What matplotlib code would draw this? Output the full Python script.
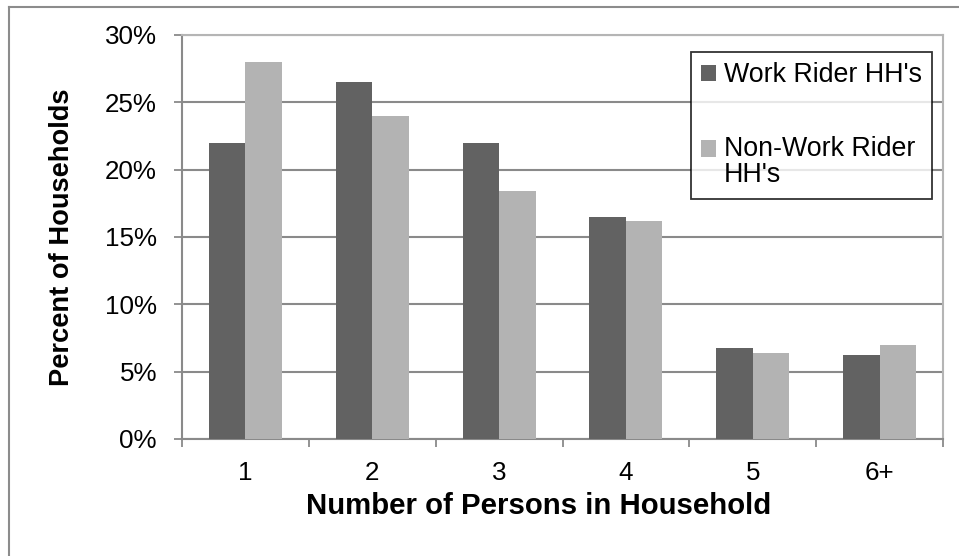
import matplotlib
matplotlib.use("Agg")
import matplotlib.pyplot as plt
import matplotlib.lines as mlines
import numpy as np

plt.rcParams['font.family'] = ['Liberation Sans', 'DejaVu Sans']

# household size categories and share of households (%)
categories = ['1', '2', '3', '4', '5', '6+']
work_rider = [22.0, 26.5, 22.0, 16.5, 6.75, 6.25]
non_work_rider = [28.0, 24.0, 18.4, 16.2, 6.4, 7.0]
yticks = [0, 5, 10, 15, 20, 25, 30]

dark = '#626262'
light = '#b3b3b3'
grid_col = '#8a8a8a'

fig = plt.figure(figsize=(9.59, 5.56), dpi=100)
ax = fig.add_axes([182 / 959, 1 - 439 / 556, 761 / 959, 404 / 556])

x = np.arange(len(categories))
w = 0.288
ax.bar(x - w / 2, work_rider, w, color=dark, label="Work Rider HH's", zorder=3)
ax.bar(x + w / 2, non_work_rider, w, color=light, label="Non-Work Rider\nHH's", zorder=3)

ax.set_xlim(-0.5, len(categories) - 0.5)
ax.set_ylim(0, 30)
ax.set_yticks(yticks)
ax.set_yticklabels(['%d%%' % t for t in yticks])
ax.set_xticks(x)
ax.set_xticklabels(categories)
ax.set_xticks(np.arange(len(categories) + 1) - 0.5, minor=True)

ax.yaxis.grid(True, color=grid_col, linewidth=1.5, zorder=0)
ax.set_axisbelow(True)

ax.tick_params(axis='y', which='major', length=6, width=1.3, color=grid_col,
               pad=12, labelsize=18.7)
ax.tick_params(axis='x', which='major', length=0, pad=16, labelsize=18.7)
ax.tick_params(axis='x', which='minor', length=6, width=1.3, color=grid_col)

for side in ['left', 'bottom']:
    ax.spines[side].set_color(grid_col)
    ax.spines[side].set_linewidth(1.5)
for side in ['top', 'right']:
    ax.spines[side].set_color('#b5b5b5')
    ax.spines[side].set_linewidth(1.5)

ax.set_xlabel('Number of Persons in Household', fontsize=21.2, fontweight='bold', va='center')
ax.set_ylabel('Percent of Households', fontsize=19.6, fontweight='bold', va='center')
ax.xaxis.set_label_coords((539 - 182) / 761, (439 - 506) / 404)
ax.yaxis.set_label_coords((62 - 182) / 761, 0.5)

leg_fs = 19.3
leg = ax.legend(loc='upper right', bbox_to_anchor=(932 / 959, 1 - 52 / 556),
                bbox_transform=fig.transFigure, borderaxespad=0, fontsize=leg_fs,
                frameon=True, fancybox=False, edgecolor='black',
                handlelength=0.55, handleheight=0.55, handletextpad=0.3,
                labelspacing=1.8, borderpad=0.38)
leg.get_frame().set_linewidth(1.3)
leg.get_texts()[1].set_linespacing(1.0)

# put the square of the two-line entry next to its first line
for col in leg._legend_handle_box.get_children():
    for item in col.get_children():
        da, ta = item.get_children()
        if '\n' in ta.get_text():
            item.align = 'top'
            da.height += 0.15 * leg_fs

# outer chart frame
fig.add_artist(mlines.Line2D([9 / 959, 9 / 959], [0, 1 - 7 / 556],
                             transform=fig.transFigure, color='#8c8c8c', linewidth=1.5))
fig.add_artist(mlines.Line2D([9 / 959, 1], [1 - 7 / 556, 1 - 7 / 556],
                             transform=fig.transFigure, color='#8c8c8c', linewidth=1.5))

fig.savefig('out.png', dpi=100)
